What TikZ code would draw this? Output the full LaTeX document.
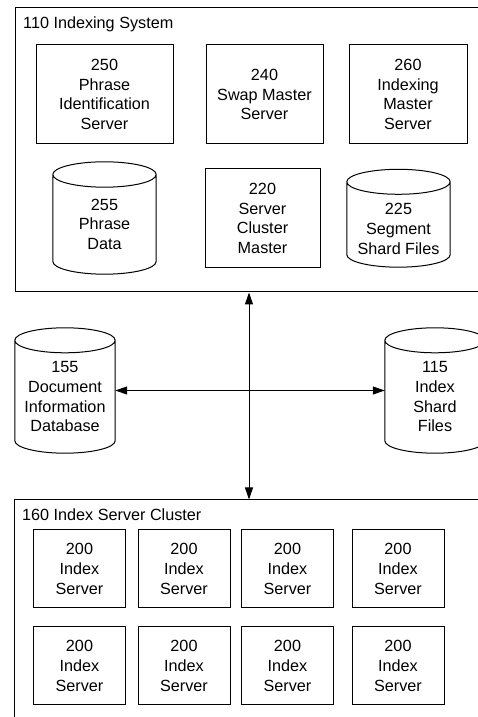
\documentclass[tikz,border=0pt]{standalone}
\usepackage{fontspec}
\setmainfont{Liberation Sans}
\usetikzlibrary{arrows.meta,calc}
\tikzset{
  base/.style={font=\fontsize{16.2}{19.7}\selectfont, align=center, inner sep=0pt},
  frame/.style={draw, line width=1pt, inner sep=0pt},
  box/.style={base, draw, line width=1pt, minimum height=99pt},
  ibox/.style={base, draw, line width=1pt, minimum width=92pt, minimum height=78pt},
  cyl/.style={base, draw=none, minimum width=#1},
  cyl/.default=103pt,
  ttl/.style={font=\fontsize{16.2}{19.7}\selectfont, inner sep=0pt, anchor=base west},
  arr/.style={line width=1pt, {Triangle[length=12pt,width=8pt]}-{Triangle[length=12pt,width=8pt]}},
  outl/.style={line width=1pt}
}
% #1 node name, #2 ellipse y radius, #3 gap between node bottom and drawn bottom
\newcommand{\drawcyl}[3]{%
  \draw[outl] let \p1=(#1.north west), \p2=(#1.south east), \n1={(\x2-\x1)/2} in
    (\x1,\y1) arc[start angle=180,end angle=540,x radius=\n1,y radius=#2pt]
    -- ({\x1},{\y2+#2pt+#3pt}) arc[start angle=180,end angle=360,x radius=\n1,y radius=#2pt]
    -- (\x2,\y1);}
\begin{document}
\begin{tikzpicture}[x=1pt,y=1pt]
\useasboundingbox (0,0) rectangle (478,717);
\clip (0,0) rectangle (478,717);
% top frame
\node[frame, minimum width=485pt, minimum height=284pt] (sys) at (257.5,567) {};
\node[ttl] (sysT) at (23,688) {110 Indexing System};
\node[box, minimum width=137pt] (n250) at (104.5,622.5) {250\\Phrase\\Identification\\Server};
\node[box, minimum width=117pt] (n240) at (264.5,622.5) {240\\Swap Master\\Server};
\node[box, minimum width=118pt] (n260) at (408,622.5) {260\\Indexing\\Master\\Server};
\node[box, minimum width=115pt] (n220) at (262.5,498.5) {220\\Server\\Cluster\\Master};
\node[cyl, minimum height=99.3pt] (n255) at (104.5,492.65) {255\\Phrase\\Data};
\drawcyl{n255}{12.7}{0}
\node[cyl, minimum height=94pt] (n225) at (398.5,488) {225\\Segment\\Shard Files};
\drawcyl{n225}{12.5}{9}
% middle
\node[cyl=100pt, minimum height=112.5pt] (n155) at (65,320.25) {155\\Document\\Information\\Database};
\drawcyl{n155}{12.5}{0}
\node[cyl=100pt, minimum height=112.5pt] (n115) at (435,320.25) {115\\Index\\Shard\\Files};
\drawcyl{n115}{12.5}{0}
% bottom frame
\node[frame, minimum width=486pt, minimum height=230pt] (cluster) at (257,102) {};
\node[ttl] (clT) at (22,196) {160 Index Server Cluster};
\foreach \c/\x in {1/79.5,2/184,3/287.5,4/398}{
  \node[ibox] (a\c) at (\x,148) {200\\Index\\Server};
  \node[ibox] (b\c) at (\x,51) {200\\Index\\Server};
}
% connectors
\coordinate (vx) at (249,0);
\draw[arr] (sys.south -| vx) -- (cluster.north -| vx);
\draw[arr] ([yshift=6.25pt]n155.east) -- ([yshift=6.25pt]n115.west);
\end{tikzpicture}
\end{document}
